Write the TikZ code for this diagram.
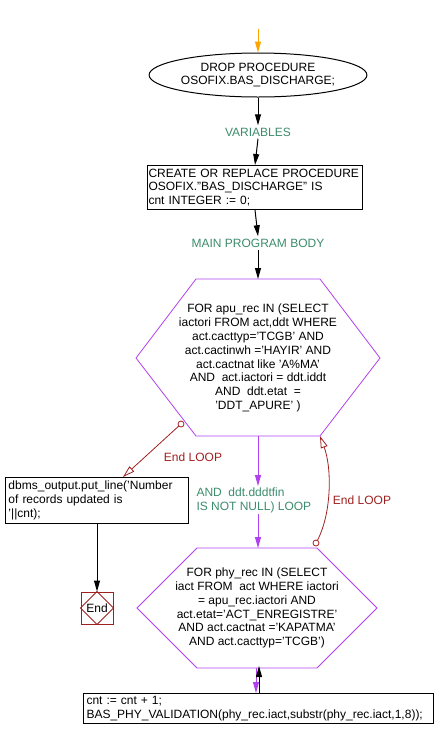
\documentclass[tikz,border=0pt]{standalone}
\usepackage{fontspec}
\setmainfont{Liberation Sans}
\usetikzlibrary{shapes.geometric,arrows.meta}
\definecolor{vio}{RGB}{176,64,240}
\definecolor{tealg}{RGB}{60,140,110}
\definecolor{dred}{RGB}{160,32,32}
\definecolor{orng}{RGB}{255,165,0}
\hyphenpenalty=10000
\exhyphenpenalty=10000
\begin{document}
\begin{tikzpicture}[x=1pt,y=-1pt,
  font=\fontsize{12}{13.8}\selectfont,
  line width=1pt,
  arr/.style={-{Triangle[length=11pt,width=6pt]}},
  oarr/.style={-{Triangle[open,length=12pt,width=7pt]}},
  box/.style={draw,anchor=north west,align=left,inner xsep=3pt,inner ysep=2pt},
  lbl/.style={text=tealg,inner sep=2pt},
  rlbl/.style={text=dred,inner sep=1pt},
  hexa/.style={draw=vio,line width=0.8pt},
  dot/.style={draw=dred,fill=white,line width=0.8pt}]
\useasboundingbox (0,0) rectangle (434,740);
% start
\coordinate (start) at (258,29);
\node[ellipse,draw,minimum width=172pt,minimum height=44pt,inner sep=0pt,align=center] (drop) at (258,75) {DROP PROCEDURE\\OSOFIX.BAS\_DISCHARGE;};
\draw[orng,arr] (start) -- (drop.north);
\node[lbl] (vars) at (258,132) {VARIABLES};
\draw[arr] (drop.south) -- (vars.north);
\node[box,minimum width=215pt,minimum height=44pt,text width=213pt,inner xsep=1pt] (create) at (147,165) {\mbox{CREATE OR REPLACE PROCEDURE}\\OSOFIX."BAS\_DISCHARGE" IS\\cnt INTEGER := 0;};
\draw[arr] (vars.south) -- (create.north);
\node[lbl] (main) at (258,243) {MAIN PROGRAM BODY};
\draw[arr] (create.south) -- (main.north);
% hexagon 1
\node[align=center,inner sep=0pt] (h1) at (258,358) {FOR apu\_rec IN (SELECT\\iactori FROM act,ddt WHERE\\act.cacttyp='TCGB' AND\\act.cactinwh ='HAYIR' AND\\act.cactnat like 'A\%MA'\\AND\ \ act.iactori = ddt.iddt\\AND\ \ ddt.etat \ =\\'DDT\_APURE' )};
\coordinate (h1t) at (258,279);
\coordinate (h1b) at (258,436);
\coordinate (h1br) at (320,436);
\draw[hexa] (196,279) -- (320,279) -- (380,358) -- (h1br) -- (196,436) -- (136,358) -- cycle;
\draw[arr] (main.south) -- (h1t);
% loop label
\node[lbl,anchor=west,align=left,inner sep=1pt] (loop) at (195,500) {AND\ \ ddt.dddtfin\\IS NOT NULL) LOOP};
% hexagon 2
\node[align=center,inner sep=0pt] (h2) at (257,608) {FOR phy\_rec IN (SELECT\\iact FROM\ \ act WHERE iactori\\= apu\_rec.iactori AND\\act.etat='ACT\_ENREGISTRE'\\AND act.cactnat ='KAPATMA'\\AND act.cacttyp='TCGB')};
\coordinate (h2t) at (258,548);
\coordinate (h2b) at (256,668);
\coordinate (h2bb) at (259,668);
\draw[hexa] (197,548) -- (317,548) -- (377,608) -- (317,668) -- (197,668) -- (137,608) -- cycle;
\draw[vio,arr] (h1b) -- (h1b |- loop.north);
\draw[vio,arr] (h1b |- loop.south) -- (h2t);
% bottom box
\node[box,minimum width=350pt,minimum height=30pt,text width=344pt,inner ysep=1.2pt] (inc) at (83,693) {cnt := cnt + 1;\\BAS\_PHY\_VALIDATION(phy\_rec.iact,substr(phy\_rec.iact,1,8));};
\draw[vio,arr] (h2b) -- (h2b |- inc.north);
\draw[arr] (h2bb |- inc.north) -- ([yshift=2pt]h2bb);
% dbms box
\node[box,minimum width=183pt,minimum height=46pt,text width=177pt] (dbms) at (5,477) {dbms\_output.put\_line('Number\\of records updated is\\'||cnt);};
\node[draw=dred,minimum size=32pt,inner sep=0pt] (end) at (97,608) {};
\draw[dred,line width=0.8pt] (end.north) -- (end.east) -- (end.south) -- (end.west) -- cycle;
\node[inner sep=0pt] (endt) at (end.center) {End};
\draw[arr] (dbms.south) -- (end.north);
% end loop 1
\coordinate (c1) at (181,424);
\coordinate (t1) at (123,477);
\draw[dred,oarr,line width=0.8pt] (c1) -- (t1);
\draw[dot] (c1) circle (3pt);
\node[rlbl] (el1) at (193,457) {End LOOP};
% end loop 2
\coordinate (c2) at (316,543);
\draw[dred,oarr,line width=0.8pt] (c2) .. controls (332,515) and (332,468) .. (h1br);
\draw[dot] (c2) circle (3pt);
\node[rlbl] (el2) at (362,500) {End LOOP};
\end{tikzpicture}
\end{document}
